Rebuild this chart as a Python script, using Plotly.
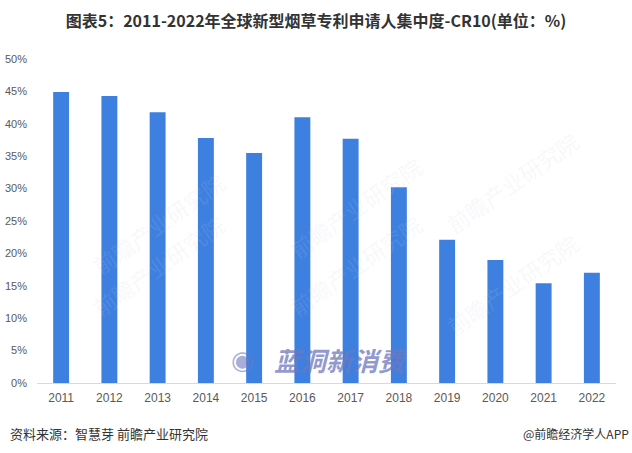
import plotly.graph_objects as go

years = ["2011", "2012", "2013", "2014", "2015", "2016", "2017", "2018", "2019", "2020", "2021", "2022"]
cr10 = [44.9, 44.3, 41.8, 37.8, 35.5, 41.0, 37.7, 30.2, 22.1, 19.0, 15.4, 17.0]
y_ticks = [0, 5, 10, 15, 20, 25, 30, 35, 40, 45, 50]
y_tick_labels = [f"{v}%" for v in y_ticks]

font_cjk = "Noto Sans CJK SC, Microsoft YaHei, sans-serif"

fig = go.Figure()
fig.add_trace(go.Bar(
    x=years, y=cr10,
    marker=dict(color="#3D80E0", line=dict(width=0)),
    hoverinfo="x+y",
))

fig.update_layout(
    width=632, height=453,
    margin=dict(l=37, r=16, t=59, b=70, autoexpand=False),
    plot_bgcolor="white", paper_bgcolor="white",
    bargap=0.67,
    showlegend=False,
    title=dict(
        text="<b>图表5：2011-2022年全球新型烟草专利申请人集中度-CR10(单位：%)</b>",
        x=0.5, xanchor="center", y=0.952, yanchor="middle",
        font=dict(family=font_cjk, size=16, color="#333333"),
    ),
    xaxis=dict(
        showgrid=False, showline=True, linecolor="#D9D9D9", linewidth=1,
        ticks="", tickfont=dict(family="Arial, Liberation Sans, sans-serif", size=12, color="#595959"),
        zeroline=False, automargin=False, ticklabelstandoff=4,
    ),
    yaxis=dict(
        range=[0, 50], tickvals=y_ticks, ticktext=y_tick_labels,
        showgrid=False, showline=False, zeroline=False, ticks="",
        tickfont=dict(family="Arial, Liberation Sans, sans-serif", size=11, color="#595959"),
        ticklabelstandoff=9, automargin=False,
    ),
)

# Watermarks
fig.add_annotation(
    text="<b><i>蓝洞新消费</i></b>", xref="paper", yref="paper",
    x=(340 - 37) / 579, y=0.074, xanchor="center", yanchor="middle", showarrow=False,
    font=dict(family=font_cjk, size=26, color="rgba(110,120,190,0.75)"),
)
fig.add_annotation(
    text="◉", xref="paper", yref="paper",
    x=(242 - 37) / 579, y=0.074, xanchor="center", yanchor="middle", showarrow=False,
    font=dict(size=26, color="rgba(110,120,190,0.6)"),
)
for (xx, yy) in [(0.08, 0.68), (0.55, 0.73), (0.95, 0.62), (0.08, 0.18), (0.55, 0.18), (0.95, 0.12)]:
    fig.add_annotation(
        text="前瞻产业研究院", xref="paper", yref="paper",
        x=xx, y=yy, showarrow=False, textangle=-35,
        font=dict(family=font_cjk, size=22, color="rgba(200,205,215,0.15)"),
    )

# Footer
fig.add_annotation(
    text="资料来源：智慧芽 前瞻产业研究院", xref="paper", yref="paper",
    x=(8 - 37) / 579, y=-(433 - 383) / 324, xanchor="left", yanchor="middle", showarrow=False,
    font=dict(family=font_cjk, size=13, color="#333333"),
)
fig.add_annotation(
    text="@前瞻经济学人APP", xref="paper", yref="paper",
    x=(631 - 37) / 579, y=-(433 - 383) / 324, xanchor="right", yanchor="middle", showarrow=False,
    font=dict(family=font_cjk, size=12, color="#333333"),
)

fig.write_html("out.html")
